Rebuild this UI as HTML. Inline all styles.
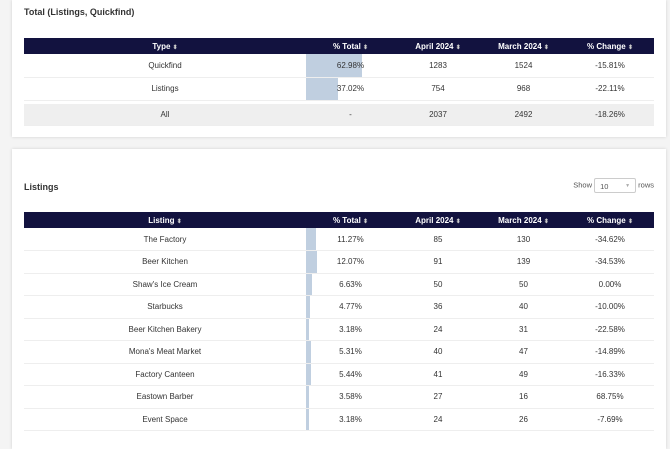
<!DOCTYPE html>
<html><head><style>
body{margin:0;width:670px;height:433px;background:#f4f4f4;font-family:"Liberation Sans",sans-serif;overflow:hidden;position:relative;color:#333}
.card{position:absolute;left:12px;width:654px;background:#fff;box-shadow:0 0 3px rgba(0,0,0,.15)}
.title{position:absolute;left:12px;font-weight:bold;font-size:9px;color:#333}
table{position:absolute;left:12px;width:630px;border-collapse:collapse;font-size:8px;table-layout:fixed}
th{background:#12123f;color:#fff;font-weight:600;height:16px;padding:0;text-align:center}
td{text-align:center;padding:0;border-bottom:1px solid #eee;position:relative}
.bar{position:absolute;left:0;top:0;bottom:0;background:#c0cfe0}
td span{position:relative}
.s{font-size:6px;color:#ccc}
</style></head><body>
<div class="card" style="top:0;height:137px">
<div class="title" style="top:7px">Total (Listings, Quickfind)</div>
<table style="top:38px">
<colgroup><col style="width:282px"><col style="width:89px"><col style="width:86px"><col style="width:85px"><col style="width:88px"></colgroup>
<tr><th>Type <span class="s">⬍</span></th><th>% Total <span class="s">⬍</span></th><th>April 2024 <span class="s">⬍</span></th><th>March 2024 <span class="s">⬍</span></th><th>% Change <span class="s">⬍</span></th></tr>
<tr style="height:23px"><td>Quickfind</td><td><div class="bar" style="width:56px"></div><span>62.98%</span></td><td>1283</td><td>1524</td><td>-15.81%</td></tr>
<tr style="height:23px"><td>Listings</td><td><div class="bar" style="width:32px"></div><span>37.02%</span></td><td>754</td><td>968</td><td>-22.11%</td></tr>
<tr style="height:4px"><td colspan="5" style="border:0"></td></tr>
<tr style="height:21px;background:#efefef"><td>All</td><td>-</td><td>2037</td><td>2492</td><td>-18.26%</td></tr>
</table>
</div>
<div class="card" style="top:149px;height:300px">
<div class="title" style="top:33px">Listings</div>
<div style="position:absolute;right:12px;top:29px;font-size:7.5px;color:#555">Show <span style="display:inline-block;width:42px;height:15px;border:1px solid #ccc;border-radius:2px;vertical-align:middle;line-height:15px;text-align:left;padding-left:5px;box-sizing:border-box;position:relative">10<span style="position:absolute;right:5px;color:#aaa;font-size:5px">▼</span></span> rows</div>
<table style="top:63px">
<colgroup><col style="width:282px"><col style="width:89px"><col style="width:86px"><col style="width:85px"><col style="width:88px"></colgroup>
<tr><th>Listing <span class="s">⬍</span></th><th>% Total <span class="s">⬍</span></th><th>April 2024 <span class="s">⬍</span></th><th>March 2024 <span class="s">⬍</span></th><th>% Change <span class="s">⬍</span></th></tr>
<tr style="height:22.5px"><td>The Factory</td><td><div class="bar" style="width:10px"></div><span>11.27%</span></td><td>85</td><td>130</td><td>-34.62%</td></tr>
<tr style="height:22.5px"><td>Beer Kitchen</td><td><div class="bar" style="width:11px"></div><span>12.07%</span></td><td>91</td><td>139</td><td>-34.53%</td></tr>
<tr style="height:22.5px"><td>Shaw's Ice Cream</td><td><div class="bar" style="width:6px"></div><span>6.63%</span></td><td>50</td><td>50</td><td>0.00%</td></tr>
<tr style="height:22.5px"><td>Starbucks</td><td><div class="bar" style="width:4px"></div><span>4.77%</span></td><td>36</td><td>40</td><td>-10.00%</td></tr>
<tr style="height:22.5px"><td>Beer Kitchen Bakery</td><td><div class="bar" style="width:3px"></div><span>3.18%</span></td><td>24</td><td>31</td><td>-22.58%</td></tr>
<tr style="height:22.5px"><td>Mona's Meat Market</td><td><div class="bar" style="width:5px"></div><span>5.31%</span></td><td>40</td><td>47</td><td>-14.89%</td></tr>
<tr style="height:22.5px"><td>Factory Canteen</td><td><div class="bar" style="width:5px"></div><span>5.44%</span></td><td>41</td><td>49</td><td>-16.33%</td></tr>
<tr style="height:22.5px"><td>Eastown Barber</td><td><div class="bar" style="width:3px"></div><span>3.58%</span></td><td>27</td><td>16</td><td>68.75%</td></tr>
<tr style="height:22.5px"><td>Event Space</td><td><div class="bar" style="width:3px"></div><span>3.18%</span></td><td>24</td><td>26</td><td>-7.69%</td></tr>
</table>
</div>
</body></html>
